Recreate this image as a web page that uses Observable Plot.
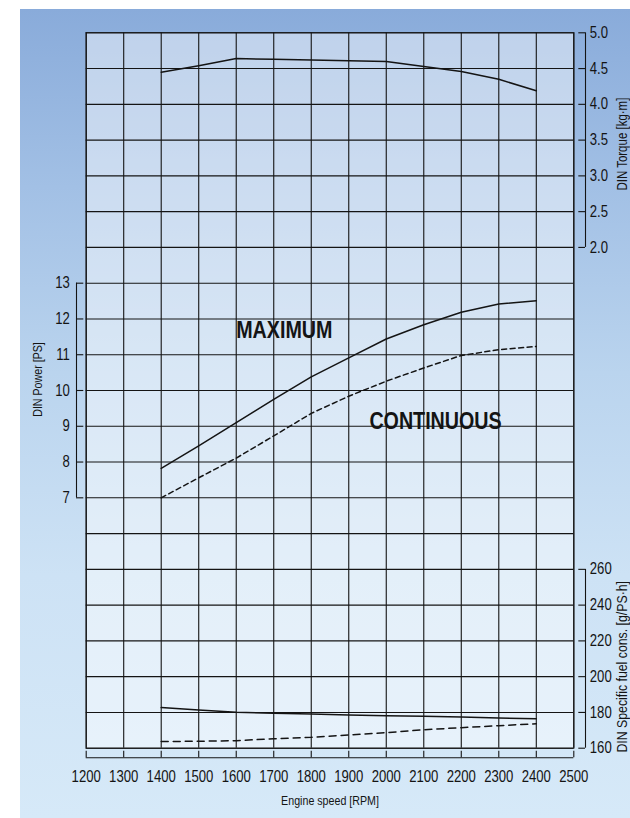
<!DOCTYPE html>
<html>
<head>
<meta charset="utf-8">
<script src="https://cdn.jsdelivr.net/npm/d3@7"></script>
<script src="https://cdn.jsdelivr.net/npm/@observablehq/plot@0.6"></script>
<style>
  html, body { margin: 0; padding: 0; background: #ffffff; }
  #chart { position: relative; width: 630px; height: 818px; overflow: hidden; }
  #panel {
    position: absolute; left: 20px; top: 9px; right: 0; bottom: 0;
    background: linear-gradient(180deg, #89abda 0%, #a2c0e5 22%, #bad4ee 45%, #cde2f5 70%, #d6e9f8 100%);
  }
  #chart svg { position: absolute; left: 0; top: 0; }
</style>
</head>
<body>
<div id="chart"><div id="panel"></div></div>
<script>
// ---------- data ----------
const rpm        = [1400, 1500, 1600, 1700, 1800, 1900, 2000, 2100, 2200, 2300, 2400];
const powerMax   = [7.82, 8.45, 9.10, 9.75, 10.38, 10.91, 11.44, 11.84, 12.19, 12.42, 12.51];
const powerCont  = [7.00, 7.56, 8.11, 8.73, 9.36, 9.84, 10.26, 10.63, 10.98, 11.14, 11.23];
const torqueMax  = [4.45, 4.54, 4.64, 4.63, 4.62, 4.61, 4.60, 4.53, 4.46, 4.35, 4.19];
const fuelMax    = [182.7, 181.4, 180.1, 179.6, 179.1, 178.6, 178.2, 177.8, 177.4, 176.9, 176.5];
const fuelCont   = [163.7, 163.9, 164.2, 165.3, 166.1, 167.4, 168.7, 170.3, 171.5, 172.6, 173.7];

const rpmTicks    = [1200, 1300, 1400, 1500, 1600, 1700, 1800, 1900, 2000, 2100, 2200, 2300, 2400, 2500];
const powerTicks  = [7, 8, 9, 10, 11, 12, 13];
const torqueTicks = [2.0, 2.5, 3.0, 3.5, 4.0, 4.5, 5.0];
const fuelTicks   = [160, 180, 200, 220, 240, 260];
const gridRows    = [0, 1, 2, 3, 4, 5, 6, 7, 8, 9, 10, 11, 12, 13, 14, 15, 16, 17, 18, 19, 20]; // grid rows in PS units

const curveLabels = [
  {text: "MAXIMUM",    rpm: 1600, ps: 11.68},
  {text: "CONTINUOUS", rpm: 1955, ps: 9.13}
];
const titles = {
  x: "Engine speed [RPM]",
  power: "DIN Power [PS]",
  torque: "DIN Torque [kg·m]",
  fuel: "DIN Specific fuel cons. [g/PS·h]"
};

// ---------- tables ----------
const powerRows  = rpm.map((r, i) => ({rpm: r, max: powerMax[i], cont: powerCont[i]}));
const torqueRows = rpm.map((r, i) => ({rpm: r, max: torqueMax[i]}));
const fuelRows   = rpm.map((r, i) => ({rpm: r, max: fuelMax[i], cont: fuelCont[i]}));

// ---------- layout ----------
const FONT = '"Liberation Sans",Arial,sans-serif';
const NARROW = 0.82; // horizontal condensing, to mimic a narrow grotesque
const W = 630, H = 818;
const M = {left: 85.7, right: 56.7, top: 32.3, bottom: 70.3};
const INK = "#141414";
const GW = 1.1;
const xDomain = [1200, 2500];
const powerDomain = [0, 20];
const torqueDomain = [-5, 5];
const fuelDomain = [160, 560];

const chart = document.getElementById("chart");
function layer(opts) {
  const svg = Plot.plot({width: W, height: H, style: {fontFamily: FONT, background: "transparent", color: INK}, ...opts});
  chart.append(svg);
}
const mainMargins = {marginLeft: M.left, marginRight: M.right, marginTop: M.top, marginBottom: M.bottom};

// base: grid, x labels, power curves
layer({
  ...mainMargins,
  x: {domain: xDomain},
  y: {domain: powerDomain, axis: null},
  marks: [
    Plot.frame({fill: "white", fillOpacity: 0.45}),
    Plot.gridX(rpmTicks, {stroke: INK, strokeOpacity: 1, strokeWidth: GW}),
    Plot.gridY(gridRows, {stroke: INK, strokeOpacity: 1, strokeWidth: GW}),
    Plot.frame({stroke: INK, strokeWidth: GW}),
    Plot.axisX(rpmTicks, {tickSize: 0, tickPadding: 22, fontSize: 16, tickFormat: "d", label: null}),
    Plot.text([titles.x], {frameAnchor: "bottom", textAnchor: "middle", dy: 57, fontSize: 13}),
    Plot.line(powerRows, {x: "rpm", y: "max", stroke: INK, strokeWidth: 1.5}),
    Plot.line(powerRows, {x: "rpm", y: "cont", stroke: INK, strokeWidth: 1.5, strokeDasharray: "5,3.5"}),
    Plot.text(curveLabels, {x: "rpm", y: "ps", text: "text", textAnchor: "start", fontWeight: "bold", fontSize: 24, fill: INK})
  ]
});

// torque curve
layer({
  ...mainMargins,
  x: {domain: xDomain, axis: null},
  y: {domain: torqueDomain, axis: null},
  marks: [Plot.line(torqueRows, {x: "rpm", y: "max", stroke: INK, strokeWidth: 1.5})]
});

// fuel curves
layer({
  ...mainMargins,
  x: {domain: xDomain, axis: null},
  y: {domain: fuelDomain, axis: null},
  marks: [
    Plot.line(fuelRows, {x: "rpm", y: "max", stroke: INK, strokeWidth: 1.5}),
    Plot.line(fuelRows, {x: "rpm", y: "cont", stroke: INK, strokeWidth: 1.5, strokeDasharray: "7,5"})
  ]
});

// x-axis bracket below the grid
layer({
  marginLeft: M.left, marginRight: M.right, marginTop: 750.7, marginBottom: H - 757.3,
  x: {domain: xDomain, axis: null},
  y: {domain: [0, 1], axis: null},
  marks: [
    Plot.ruleY([0], {stroke: INK, strokeWidth: GW}),
    Plot.tickX(rpmTicks, {x: d => d, stroke: INK, strokeWidth: GW})
  ]
});

// power bracket (left)
layer({
  marginLeft: 76, marginRight: W - 83.3, marginTop: M.top, marginBottom: M.bottom,
  x: {domain: [0, 1], axis: null},
  y: {domain: powerDomain},
  marks: [
    Plot.ruleX([0], {y1: d3.min(powerTicks), y2: d3.max(powerTicks), stroke: INK, strokeWidth: GW}),
    Plot.tickY(powerTicks, {y: d => d, stroke: INK, strokeWidth: GW}),
    Plot.axisY(powerTicks, {anchor: "left", tickSize: 0, tickPadding: 6.7, fontSize: 16, label: null}),
    Plot.text([titles.power], {frameAnchor: "left", textAnchor: "middle", dx: -39, dy: -11, rotate: -90, fontSize: 13})
  ]
});

// torque bracket (right, top)
layer({
  marginLeft: 578.3, marginRight: W - 585, marginTop: M.top, marginBottom: M.bottom,
  x: {domain: [0, 1], axis: null},
  y: {domain: torqueDomain},
  marks: [
    Plot.ruleX([1], {y1: d3.min(torqueTicks), y2: d3.max(torqueTicks), stroke: INK, strokeWidth: GW}),
    Plot.tickY(torqueTicks, {y: d => d, stroke: INK, strokeWidth: GW}),
    Plot.axisY(torqueTicks, {anchor: "right", tickSize: 0, tickPadding: 4.3, fontSize: 16, tickFormat: ".1f", label: null}),
    Plot.text([{t: titles.torque, y: (d3.min(torqueTicks) + d3.max(torqueTicks)) / 2}],
      {text: "t", y: "y", frameAnchor: "right", textAnchor: "middle", dx: 37, dy: 4, rotate: -90, fontSize: 14})
  ]
});

// fuel bracket (right, bottom)
layer({
  marginLeft: 578.3, marginRight: W - 585, marginTop: M.top, marginBottom: M.bottom,
  x: {domain: [0, 1], axis: null},
  y: {domain: fuelDomain},
  marks: [
    Plot.ruleX([1], {y1: d3.min(fuelTicks), y2: d3.max(fuelTicks), stroke: INK, strokeWidth: GW}),
    Plot.tickY(fuelTicks, {y: d => d, stroke: INK, strokeWidth: GW}),
    Plot.axisY(fuelTicks, {anchor: "right", tickSize: 0, tickPadding: 4.3, fontSize: 16, tickFormat: "d", label: null}),
    Plot.text([{t: titles.fuel, y: (d3.min(fuelTicks) + d3.max(fuelTicks)) / 2}],
      {text: "t", y: "y", frameAnchor: "right", textAnchor: "middle", dx: 37, dy: 8, rotate: -90, fontSize: 15})
  ]
});

// condense all texts horizontally (narrow typeface look)
chart.querySelectorAll("text").forEach(t => {
  const L = t.getComputedTextLength();
  if (L > 0) {
    t.setAttribute("textLength", (L * NARROW).toFixed(2));
    t.setAttribute("lengthAdjust", "spacingAndGlyphs");
  }
});
</script>
</body>
</html>
